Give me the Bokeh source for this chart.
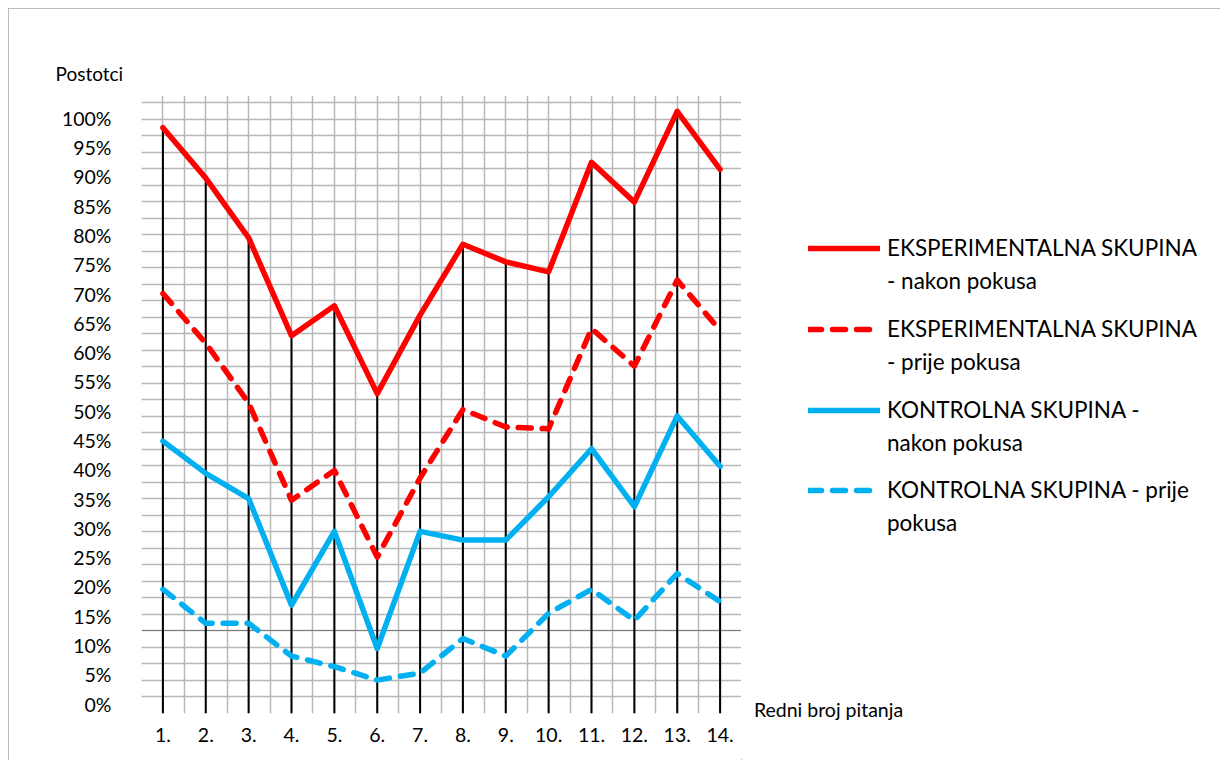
from bokeh.plotting import figure
from bokeh.models import (Range1d, FixedTicker, Grid, Legend, LegendItem, LinearAxis)
from bokeh.layouts import row
from bokeh.embed import file_html
from bokeh.resources import INLINE

# ---- data ----
categories = list(range(1, 15))
tick_labels = ["1.", "2.", "3.", "4.", "5.", "6.", "7.", "8.", "9.", "10.", "11.", "12.", "13.", "14."]
exp_after = [98.4, 89.8, 79.6, 62.9, 68.0, 53.0, 66.4, 78.5, 75.5, 73.8, 92.5, 85.7, 101.2, 91.3]
exp_before = [70.1, 61.6, 51.4, 34.8, 39.9, 25.1, 38.6, 50.3, 47.3, 47.0, 64.1, 57.7, 72.4, 63.8]
ctl_after = [44.9, 39.4, 35.1, 16.9, 29.5, 9.5, 29.5, 28.0, 28.0, 35.4, 43.6, 33.7, 49.2, 40.6]
ctl_before = [19.6, 13.8, 13.8, 8.2, 6.4, 4.1, 5.3, 11.2, 8.2, 15.5, 19.6, 14.3, 22.3, 17.5]
y_ticks = list(range(0, 101, 5))
y_tick_labels = [f"{v}%" for v in y_ticks]
series_names = [("EKSPERIMENTALNA SKUPINA", "- nakon pokusa"),
                ("EKSPERIMENTALNA SKUPINA", "- prije pokusa"),
                ("KONTROLNA SKUPINA -", "nakon pokusa"),
                ("KONTROLNA SKUPINA - prije", "pokusa")]
series_colors = ["#FF0000", "#FF0000", "#00B0F0", "#00B0F0"]
series_dash = ["solid", "13 11", "solid", "13 11"]
series_values = [exp_after, exp_before, ctl_after, ctl_before]
y_title = "Postotci"
x_title = "Redni broj pitanja"

FONT = "Lato"
GRID = "#B8B8B8"
LW = 5.5

y_start, y_end = -1.6, 103.9
x_start, x_end = 0.5, 14.5

p = figure(width=733, height=752, frame_width=600, frame_height=618,
           min_border_left=133, min_border_right=0,
           min_border_top=87, min_border_bottom=47,
           x_range=Range1d(x_start, x_end), y_range=Range1d(y_start, y_end),
           output_backend="svg", toolbar_location=None,
           background_fill_color="white", border_fill_color="white")
p.outline_line_color = None

# title "Postotci"
p.title.text = y_title
p.title.align = "left"
p.title.offset = -86
p.title.standoff = 21
p.title.text_font = FONT
p.title.text_font_size = "19px"
p.title.text_font_style = "normal"
p.title.text_color = "black"

# grid-paper background
p.extra_y_ranges = {"grid": Range1d(0, 618 / 16.51)}
p.xgrid.ticker = FixedTicker(ticks=[0.5 + 0.5 * i for i in range(29)])
p.xgrid.grid_line_color = GRID
p.xgrid.grid_line_width = 1.5
p.ygrid.visible = False
hgrid = Grid(dimension=1, y_range_name="grid",
             ticker=FixedTicker(ticks=list(range(0, 38))),
             grid_line_color=GRID, grid_line_width=1.5)
p.add_layout(hgrid)
dark = Grid(dimension=1, y_range_name="grid", ticker=FixedTicker(ticks=[5]),
            grid_line_color="#7F7F7F", grid_line_width=1.2)
p.add_layout(dark)
base = Grid(dimension=1, y_range_name="grid", ticker=FixedTicker(ticks=[0]),
            grid_line_color="#A6A6A6", grid_line_width=2)
p.add_layout(base)

# axes
p.xaxis.ticker = FixedTicker(ticks=categories)
p.xaxis.major_label_overrides = {c: t for c, t in zip(categories, tick_labels)}
p.yaxis.ticker = FixedTicker(ticks=y_ticks)
p.yaxis.major_label_overrides = {v: t for v, t in zip(y_ticks, y_tick_labels)}
for ax in (p.xaxis[0], p.yaxis[0]):
    ax.axis_line_color = None
    ax.major_tick_line_color = None
    ax.minor_tick_line_color = None
    ax.major_label_text_font = FONT
    ax.major_label_text_font_size = "19.5px"
    ax.major_label_text_color = "black"
p.xaxis.major_label_standoff = 8
p.yaxis.major_label_standoff = 24

# drop lines
p.segment(x0=categories, y0=[y_start] * len(categories), x1=categories, y1=exp_after,
          line_color="black", line_width=2)

for vals, col, dash in zip(series_values, series_colors, series_dash):
    p.line(categories, vals, line_color=col, line_width=LW, line_dash=dash,
           line_cap="round", line_join="round")

# ---- right-hand part: legend and x-axis title ----
p2 = figure(width=479, height=752, min_border=0,
            x_range=Range1d(0, 479), y_range=Range1d(0, 752),
            x_axis_location=None, y_axis_location=None,
            output_backend="svg", toolbar_location=None,
            background_fill_color="white", border_fill_color="white")
p2.outline_line_color = None
p2.grid.visible = False

# x-axis title placed beside the end of the category axis
title_axis = LinearAxis(ticker=FixedTicker(ticks=[87]),
                        major_label_overrides={87: x_title},
                        axis_line_color=None, major_tick_line_color=None,
                        minor_tick_line_color=None, major_tick_out=0, major_tick_in=0,
                        major_label_standoff=-16,
                        major_label_text_font=FONT, major_label_text_font_size="19.5px",
                        major_label_text_color="black")
p2.add_layout(title_axis, "below")

# legend key renderers (styling only, kept outside the visible range)
blank = p2.line(x=[-100, -90], y=[-100, -100], line_alpha=0)
legend_y = [419, 338, 257, 177]
for (l1, l2), col, dash, ly in zip(series_names, series_colors, series_dash, legend_y):
    r = p2.line(x=[-100, -90], y=[-100, -100], line_color=col, line_width=LW,
                line_dash=dash, line_cap="round")
    lg = Legend(items=[LegendItem(label=l1, renderers=[r]),
                       LegendItem(label=l2, renderers=[blank])],
                location=(67, ly), padding=0, margin=0, spacing=6,
                glyph_width=72, glyph_height=20, label_standoff=7,
                label_text_font=FONT, label_text_font_size="22.5px",
                label_text_color="black",
                border_line_color=None, background_fill_alpha=0)
    p2.add_layout(lg)

layout = row(p, p2)
layout.styles = {"margin-left": "8px", "margin-top": "8px",
                 "outline": "1px solid #A6A6A6", "outline-offset": "-1px"}

open("out.html", "w").write(file_html(layout, INLINE))
